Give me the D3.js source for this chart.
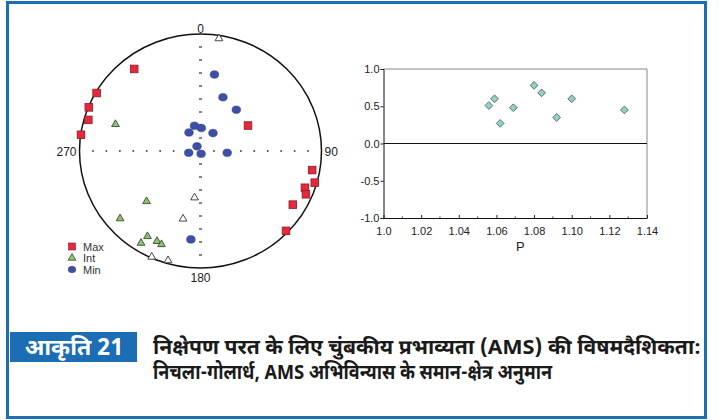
<!DOCTYPE html>
<html>
<head>
<meta charset="utf-8">
<script src="https://cdn.jsdelivr.net/npm/d3@7"></script>
<style>
  html, body { margin: 0; padding: 0; background: #fff; }
  svg { display: block; }
</style>
</head>
<body>
<svg id="fig" width="719" height="420"></svg>
<script>
// AMS principal axes, lower-hemisphere equal-area stereonet (trend / plunge, degrees)
const maxTrend  = [322, 300, 292, 286, 278, 61, 100, 106, 110, 113, 121, 134];
const maxPlunge = [12, 1, 0.5, 4, 0.3, 53, 7, 2, 9, 6, 12, 2];
const intTrend  = [9, 288, 226, 187, 229, 194, 211, 212, 205, 202, 204, 196];
const intPlunge = [3, 27, 38, 57, 13, 40, 16, 8, 16, 15, 1, 3];
const intOpen   = [true, false, false, true, false, true, false, false, false, false, true, true];
const minTrend  = [10, 22, 40, 347, 2, 329, 34, 324, 261, 168, 94, 186];
const minPlunge = [34, 49, 52, 72, 74, 75, 75, 86, 82, 88, 72, 25];

// Shape parameter T against corrected anisotropy degree P
const pValues = [1.056, 1.059, 1.062, 1.069, 1.080, 1.084, 1.092, 1.100, 1.128];
const tValues = [0.51, 0.60, 0.27, 0.48, 0.78, 0.68, 0.35, 0.60, 0.45];
const pTicks = [1.0, 1.02, 1.04, 1.06, 1.08, 1.10, 1.12, 1.14];
const pTickLabels = ["1.0", "1.02", "1.04", "1.06", "1.08", "1.10", "1.12", "1.14"];
const tTicks = [1.0, 0.5, 0.0, -0.5, -1.0];
const tTickLabels = ["1.0", "0.5", "0.0", "-0.5", "-1.0"];

const compassLabels = ["0", "90", "180", "270"];
const legendLabels = ["Max", "Int", "Min"];
const figureLabel = "आकृति 21";
const captionLines = [
  "निक्षेपण परत के लिए चुंबकीय प्रभाव्यता (AMS) की विषमदैशिकता:",
  "निचला-गोलार्ध, AMS अभिविन्यास के समान-क्षेत्र अनुमान"
];
const captionWidths = [548, 399];

const svg = d3.select("#fig");
const blue = "#1b6db4";
const chartFont = "'Liberation Sans', Arial, sans-serif";
const devFont = "'Noto Sans Devanagari', 'Noto Sans', 'Lohit Devanagari', 'FreeSans', sans-serif";

// outer frame
svg.append("rect").attr("x", 7.5).attr("y", 2.5).attr("width", 698).attr("height", 415)
  .attr("fill", "#fff").attr("stroke", blue).attr("stroke-width", 3);

// ---------- stereonet ----------
const sx = d3.scaleLinear().domain([-1, 1]).range([79.5, 321.5]);
const sy = d3.scaleLinear().domain([-1, 1]).range([268, 34]);
const rad = Math.PI / 180;
function project(trend, plunge) {
  const r = Math.SQRT2 * Math.sin((90 - plunge) / 2 * rad);
  return [sx(r * Math.sin(trend * rad)), sy(r * Math.cos(trend * rad))];
}

const net = svg.append("g");
net.append("ellipse")
  .attr("cx", sx(0)).attr("cy", sy(0))
  .attr("rx", sx(1) - sx(0)).attr("ry", sy(0) - sy(1))
  .attr("fill", "none").attr("stroke", "#111").attr("stroke-width", 1.5);

const steps = d3.range(-8, 9).filter(k => k !== 0).map(k => k / 9);
// dotted E-W diameter
net.selectAll(".hdot").data(steps).join("rect")
  .attr("x", d => sx(d) - 0.8).attr("y", sy(0) - 0.8)
  .attr("width", 1.6).attr("height", 1.6).attr("fill", "#333");
// dashed N-S diameter
net.selectAll(".vdash").data(steps).join("rect")
  .attr("x", sx(0) - 1.5).attr("y", d => sy(d) - 0.6)
  .attr("width", 3).attr("height", 1.2).attr("fill", "#333");

const compass = net.append("g").attr("font-family", chartFont).attr("font-size", 12).attr("fill", "#222");
compass.append("text").attr("x", sx(0)).attr("y", sy(1) - 1).attr("text-anchor", "middle").text(compassLabels[0]);
compass.append("text").attr("x", sx(1) + 3).attr("y", sy(0) + 4.5).attr("text-anchor", "start").text(compassLabels[1]);
compass.append("text").attr("x", sx(0)).attr("y", sy(-1) + 14).attr("text-anchor", "middle").text(compassLabels[2]);
compass.append("text").attr("x", sx(-1) - 3).attr("y", sy(0) + 4.5).attr("text-anchor", "end").text(compassLabels[3]);

const maxPts = maxTrend.map((t, i) => project(t, maxPlunge[i]));
const intPts = intTrend.map((t, i) => ({ p: project(t, intPlunge[i]), open: intOpen[i] }));
const minPts = minTrend.map((t, i) => project(t, minPlunge[i]));

const maxFill = "#e4283e", maxStroke = "#8a1b22";
const intFill = "#8cc36e", intStroke = "#3a4a30";
const minFill = "#3f4fa6", minStroke = "#2b3680";
const tri = d3.symbol().type(d3.symbolTriangle).size(26);

net.selectAll(".minpt").data(minPts).join("ellipse")
  .attr("cx", d => d[0]).attr("cy", d => d[1]).attr("rx", 4.3).attr("ry", 3.8)
  .attr("fill", minFill).attr("stroke", minStroke).attr("stroke-width", 0.5);
net.selectAll(".maxpt").data(maxPts).join("rect")
  .attr("x", d => d[0] - 3.8).attr("y", d => d[1] - 3.8).attr("width", 7.6).attr("height", 7.6)
  .attr("fill", maxFill).attr("stroke", maxStroke).attr("stroke-width", 0.8);
net.selectAll(".intpt").data(intPts).join("path")
  .attr("d", tri).attr("transform", d => `translate(${d.p[0]},${d.p[1]})`)
  .attr("fill", d => d.open ? "#fff" : intFill)
  .attr("stroke", d => d.open ? "#333" : intStroke).attr("stroke-width", 0.9);

// legend
const leg = net.append("g").attr("font-family", chartFont).attr("font-size", 11).attr("fill", "#333");
const legY = [246.5, 258, 269.5];
leg.append("rect").attr("x", 68.5).attr("y", legY[0] - 3.5).attr("width", 7).attr("height", 7)
  .attr("fill", maxFill).attr("stroke", maxStroke).attr("stroke-width", 0.6);
leg.append("path").attr("d", tri).attr("transform", `translate(72,${legY[1]})`)
  .attr("fill", intFill).attr("stroke", intStroke).attr("stroke-width", 0.8);
leg.append("ellipse").attr("cx", 72).attr("cy", legY[2]).attr("rx", 3.8).attr("ry", 3.3)
  .attr("fill", minFill).attr("stroke", minStroke).attr("stroke-width", 0.5);
leg.selectAll(".lt").data(legendLabels).join("text")
  .attr("x", 83).attr("y", (d, i) => legY[i] + 4).text(d => d);

// ---------- T vs P plot ----------
const x = d3.scaleLinear().domain([1.0, 1.14]).range([383.5, 647]);
const y = d3.scaleLinear().domain([-1, 1]).range([218, 69]);
const plot = svg.append("g");

plot.append("line").attr("x1", x(1.0)).attr("x2", x(1.14)).attr("y1", y(1)).attr("y2", y(1))
  .attr("stroke", "#888").attr("stroke-width", 1);
plot.append("line").attr("x1", x(1.14)).attr("x2", x(1.14)).attr("y1", y(1)).attr("y2", y(-1))
  .attr("stroke", "#888").attr("stroke-width", 1);
plot.append("line").attr("x1", x(1.0)).attr("x2", x(1.14)).attr("y1", y(0)).attr("y2", y(0))
  .attr("stroke", "#111").attr("stroke-width", 1);

const xAxis = plot.append("g").attr("transform", `translate(0,${y(-1)})`)
  .call(d3.axisBottom(x).tickValues(pTicks).tickSizeInner(-3).tickSizeOuter(0)
    .tickFormat((d, i) => pTickLabels[i]));
xAxis.select(".domain").attr("stroke", "#111");
xAxis.selectAll(".tick line").attr("stroke", "#222");
xAxis.selectAll(".tick text").attr("y", 9).attr("dy", "0.71em")
  .attr("font-family", chartFont).attr("font-size", 11).attr("fill", "#222");
const minorP = d3.range(1.01, 1.14, 0.02);
xAxis.selectAll(".minor").data(minorP).join("line").attr("class", "minor")
  .attr("x1", d => x(d)).attr("x2", d => x(d)).attr("y1", 0).attr("y2", -1.6)
  .attr("stroke", "#444");

const yAxis = plot.append("g").attr("transform", `translate(${x(1.0)},0)`)
  .call(d3.axisLeft(y).tickValues(tTicks).tickSize(3).tickPadding(1)
    .tickFormat((d, i) => tTickLabels[i]));
yAxis.select(".domain").attr("stroke", "#111");
yAxis.selectAll(".tick line").attr("stroke", "#222");
yAxis.selectAll(".tick text").attr("font-family", chartFont).attr("font-size", 11).attr("fill", "#222");

plot.append("text").attr("x", (x(1.0) + x(1.14)) / 2 + 5).attr("y", 251)
  .attr("text-anchor", "middle").attr("font-family", chartFont).attr("font-size", 13)
  .attr("fill", "#222").text("P");

plot.selectAll(".pt").data(pValues).join("path")
  .attr("d", d3.symbol().type(d3.symbolSquare).size(30))
  .attr("transform", (d, i) => `translate(${x(d)},${y(tValues[i])}) rotate(45)`)
  .attr("fill", "#8ed3c1").attr("stroke", "#556").attr("stroke-width", 0.8);

// ---------- caption ----------
const cap = svg.append("g");
cap.append("rect").attr("x", 10).attr("y", 332).attr("width", 127).attr("height", 30).attr("fill", blue);
cap.append("text").attr("x", 74).attr("y", 355).attr("text-anchor", "middle")
  .attr("font-family", devFont).attr("font-weight", "bold").attr("font-size", 23)
  .attr("fill", "#fff").text(figureLabel);
cap.selectAll(".cl").data(captionLines).join("text")
  .attr("x", 153).attr("y", (d, i) => 354 + i * 25)
  .attr("font-family", devFont).attr("font-weight", "bold").attr("font-size", 20)
  .attr("textLength", (d, i) => captionWidths[i]).attr("lengthAdjust", "spacingAndGlyphs")
  .attr("fill", "#1a1a1a").text(d => d);
</script>
</body>
</html>
